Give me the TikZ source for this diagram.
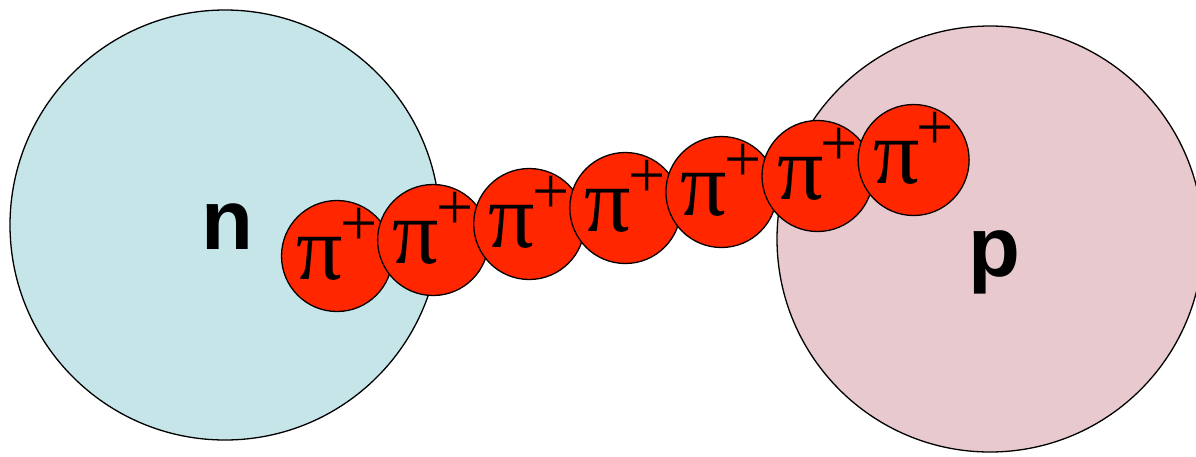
\documentclass[tikz,border=0pt]{standalone}
\usepackage{fontspec}
\setmainfont{Liberation Serif}
\newfontfamily\nucfont{Liberation Sans}
\definecolor{neutron}{HTML}{C5E5E9}
\definecolor{proton}{HTML}{E8C9CE}
\definecolor{pion}{HTML}{FF2600}
\begin{document}
\begin{tikzpicture}[x=1pt, y=-1pt, line width=1.3pt,
  nucleon/.style={circle, draw=black, inner sep=0pt},
  pionball/.style={circle, draw=black, fill=pion, minimum size=111pt, inner sep=0pt},
  nuclabel/.style={anchor=base, font=\nucfont\bfseries\fontsize{85}{85}\selectfont},
  pionlabel/.style={anchor=base, font=\fontsize{92}{92}\selectfont}]
\useasboundingbox (0,0) rectangle (1196,456);
\clip (0,0) rectangle (1196,456);
% neutron and proton
\node[nucleon, fill=neutron, minimum size=430pt] (neut) at (225,225) {};
\node[nucleon, fill=proton, minimum size=426pt] (prot) at (990,239) {};
\node[nuclabel] (nlab) at (227,249) {n};
\node[nuclabel] (plab) at (994,276) {p};
% pion chain, each ball drawn over the previous one
\foreach \i in {0,...,6} {
  \pgfmathsetmacro\cx{337+96.1*\i}
  \pgfmathsetmacro\cy{256-16*\i}
  \node[pionball] (pi\i) at (\cx,\cy) {};
  \node[pionlabel] (pit\i) at (\cx,\cy+23)
    {π\kern-0.03em\raisebox{0.36em}{\fontsize{66}{66}\selectfont+}};
}
\end{tikzpicture}
\end{document}
